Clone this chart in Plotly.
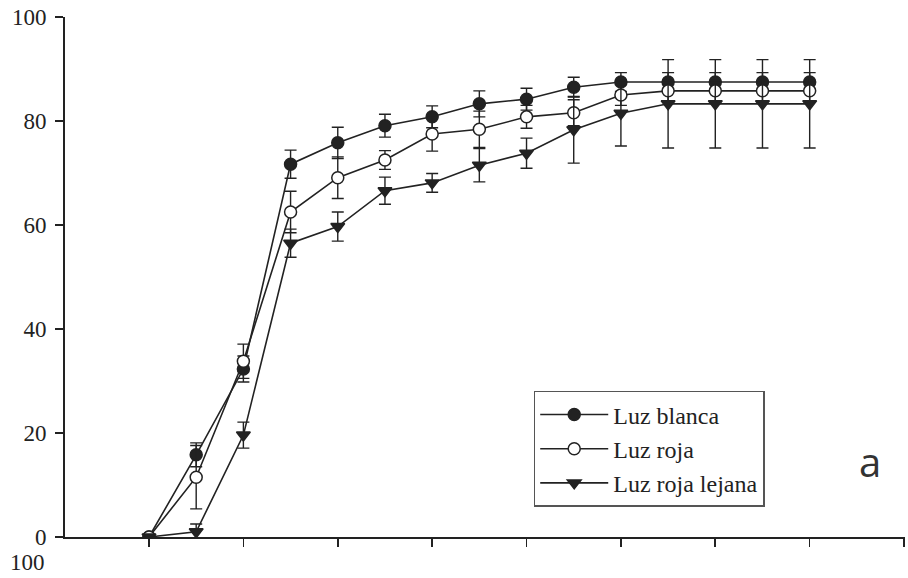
import plotly.graph_objects as go

x_idx = list(range(15))

blanca = [0, 15.8, 32.3, 71.7, 75.8, 79.1, 80.8, 83.3, 84.2, 86.5, 87.5, 87.5, 87.5, 87.5, 87.5]
blanca_err = [0, 2.3, 2.5, 2.7, 3.0, 2.2, 2.1, 2.5, 2.1, 1.9, 1.8, 1.8, 1.8, 1.8, 1.8]

roja = [0, 11.5, 33.8, 62.5, 69.1, 72.5, 77.5, 78.4, 80.8, 81.6, 85.0, 85.8, 85.8, 85.8, 85.8]
roja_err = [0, 6.1, 3.3, 4.0, 4.0, 1.8, 3.3, 3.5, 2.2, 2.5, 2.0, 2.0, 2.0, 2.0, 2.0]

lejana = [0, 1.0, 19.6, 56.5, 59.7, 66.6, 68.1, 71.5, 73.8, 78.3, 81.5, 83.3, 83.3, 83.3, 83.3]
lejana_err = [0, 1.5, 2.5, 2.7, 2.8, 2.6, 1.8, 3.2, 2.9, 6.4, 6.3, 8.5, 8.5, 8.5, 8.5]

y_ticks = [0, 20, 40, 60, 80, 100]
x_ticks = [0, 2, 4, 6, 8, 10, 12, 14, 16]

names = ["Luz blanca", "Luz roja", "Luz roja lejana"]

SERIF = "Liberation Serif"
INK = "#222222"

fig = go.Figure()

def add(name, ys, errs, symbol, fill):
    fig.add_trace(go.Scatter(
        x=x_idx, y=ys, name=name, mode="lines+markers",
        line=dict(color=INK, width=1.6),
        marker=dict(symbol=symbol, size=12, color=fill,
                    line=dict(color=INK, width=1.5)),
        error_y=dict(type="data", array=errs, visible=True,
                     color=INK, thickness=1.4, width=6),
    ))

add(names[0], blanca, blanca_err, "circle", INK)
add(names[1], roja, roja_err, "circle", "white")
add(names[2], lejana, lejana_err, "triangle-down", INK)

fig.update_layout(
    width=908, height=578,
    margin=dict(l=65, r=3, t=17, b=41, autoexpand=False),
    paper_bgcolor="white", plot_bgcolor="white",
    font=dict(family=SERIF, size=22, color=INK),
    showlegend=True,
    legend=dict(
        x=0.558, y=0.281, xanchor="left", yanchor="top",
        bordercolor="#555555", borderwidth=1.5, bgcolor="white",
        font=dict(family=SERIF, size=24, color=INK),
        tracegroupgap=0, itemwidth=68,
    ),
    xaxis=dict(
        range=[-1.78, 16.02], tickvals=x_ticks, showticklabels=False,
        ticks="outside", ticklen=8, tickwidth=1.6, tickcolor=INK,
        showline=True, linecolor=INK, linewidth=2,
        showgrid=False, zeroline=False, automargin=False,
    ),
    yaxis=dict(
        range=[0, 100], tickvals=y_ticks,
        ticks="outside", ticklen=8, tickwidth=1.6, tickcolor=INK,
        showline=True, linecolor=INK, linewidth=2,
        showgrid=False, zeroline=False, automargin=False,
        tickfont=dict(family=SERIF, size=23, color=INK),
        ticklabelstandoff=4, ticklabeloverflow="allow",
    ),
    annotations=[
        dict(text="a", xref="paper", yref="paper",
             x=(870 - 65) / 840, y=(537 - 461) / 520,
             xanchor="center", yanchor="middle", showarrow=False,
             font=dict(family="Open Sans", size=40, color="#333333")),
        dict(text="100", xref="paper", yref="paper",
             x=(27 - 65) / 840, y=(537 - 562) / 520,
             xanchor="center", yanchor="middle", showarrow=False,
             font=dict(family=SERIF, size=23, color=INK)),
    ],
)

fig.write_html(
    "out.html",
    config={"displayModeBar": False, "staticPlot": True},
    post_script="document.body.style.margin='0';document.body.style.overflow='hidden';",
)
